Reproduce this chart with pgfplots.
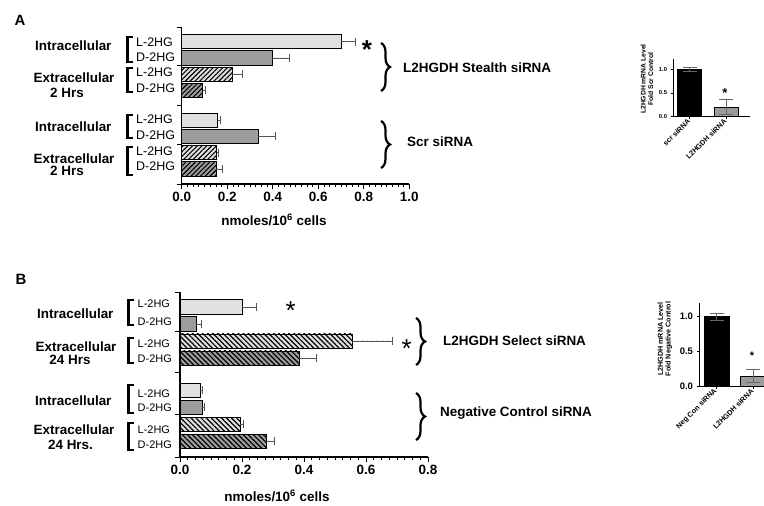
\documentclass[border=0pt]{standalone}
\usepackage{fontspec}
\setmainfont{Liberation Sans}
\usepackage{pgfplots}
\pgfplotsset{compat=1.18}
\usetikzlibrary{patterns.meta,decorations.pathreplacing}

\definecolor{lightbar}{HTML}{E0E0E0}
\definecolor{darkbar}{HTML}{9C9C9C}
\definecolor{errgray}{HTML}{555555}

\newcommand\bigb{\fontsize{13.5}{15}\selectfont\bfseries}
\newcommand\labA{\fontsize{12.5}{14}\selectfont}
\newcommand\labB{\fontsize{11}{13}\selectfont}

\pgfplotsset{
  numfmt/.style={/pgf/number format/fixed, /pgf/number format/fixed zerofill,
    /pgf/number format/precision=1, /pgf/number format/assume math mode=true},
  mainax/.style={
    anchor=south west, scale only axis,
    xmin=0, y dir=reverse,
    axis x line*=bottom, axis y line*=left,
    axis line style={line width=1.2pt},
    tick align=outside,
    major tick length=5bp, minor tick length=3bp,
    every tick/.style={black, line width=1pt},
    minor tick style={line width=0.6pt},
    minor x tick num=7,
    yticklabels={},
    xticklabel style={font=\bigb},
    numfmt,
  },
  hb/.style={xbar, bar shift=0pt, draw=black, line width=0.7pt,
    error bars/x dir=plus, error bars/x explicit,
    error bars/error bar style={line width=0.6pt, draw=errgray},
    error bars/error mark options={rotate=90, mark size=4bp, line width=0.6pt, draw=errgray}},
  hfill/.style={xbar, bar shift=0pt, draw=none, forget plot},
  inset/.style={
    anchor=south west, scale only axis,
    ymin=0, ymax=1.2,
    axis x line*=bottom, axis y line*=left,
    axis line style={line width=0.7pt},
    tick align=outside, major tick length=2.5bp,
    every tick/.style={black, line width=0.6pt},
    xtick={0,1}, ytick={0,0.5,1},
    xticklabel style={rotate=45, anchor=east, inner sep=1pt},
    numfmt,
  },
  vb/.style={ybar, bar shift=0pt, draw=black, line width=0.5pt,
    error bars/y dir=both, error bars/y explicit,
    error bars/error bar style={line width=0.6pt, draw=black!60},
    error bars/error mark options={rotate=90, mark size=7bp, line width=0.6pt, draw=black!60}},
}

\begin{document}
\begin{tikzpicture}[x=1bp,y=-1bp]
\useasboundingbox (0,0) rectangle (764,506);
\coordinate (pA) at (181.7,184);
\coordinate (pB) at (180,457);
\coordinate (iA) at (673,116.7);
\coordinate (iB) at (699,386.7);

% ---------- panel A ----------
\begin{axis}[mainax, at={(pA)}, width=227.6bp, height=157bp,
  xmax=1, ymin=0.1, ymax=9.75,
  xtick={0,0.2,0.4,0.6,0.8,1}, ytick={0.1,2.45,4.9,7.35,9.75}]
\pgfplotsset{every axis plot/.append style={bar width=0.87}}
\addplot[hb, fill=lightbar] coordinates {(0.70,1) +- (0.064,0)};
\addplot[hb, fill=darkbar] coordinates {(0.40,2) +- (0.071,0)};
\addplot[hfill, fill=lightbar] coordinates {(0.222,3)};
\addplot[hb, pattern={Lines[angle=45,distance=3.4pt,line width=1.1pt]}] coordinates {(0.222,3) +- (0.046,0)};
\addplot[hfill, fill=darkbar] coordinates {(0.092,4)};
\addplot[hb, pattern={Lines[angle=45,distance=3.4pt,line width=1.1pt]}] coordinates {(0.092,4) +- (0.013,0)};
\addplot[hb, fill=lightbar] coordinates {(0.158,5.82) +- (0.010,0)};
\addplot[hb, fill=darkbar] coordinates {(0.336,6.82) +- (0.077,0)};
\addplot[hfill, fill=lightbar] coordinates {(0.154,7.82)};
\addplot[hb, pattern={Lines[angle=45,distance=3.4pt,line width=1.1pt]}] coordinates {(0.154,7.82) +- (0.008,0)};
\addplot[hfill, fill=darkbar] coordinates {(0.151,8.82)};
\addplot[hb, pattern={Lines[angle=45,distance=3.4pt,line width=1.1pt]}] coordinates {(0.151,8.82) +- (0.029,0)};
\end{axis}

% ---------- panel B ----------
\begin{axis}[mainax, at={(pB)}, width=248bp, height=165bp,
  xmax=0.8, ymin=0.12, ymax=9.82,
  xtick={0,0.2,0.4,0.6,0.8}, ytick={0.12,2.45,4.88,7.35,9.82}]
\pgfplotsset{every axis plot/.append style={bar width=0.84}}
\addplot[hb, fill=lightbar] coordinates {(0.20,1) +- (0.047,0)};
\addplot[hb, fill=darkbar] coordinates {(0.052,2) +- (0.016,0)};
\addplot[hfill, fill=lightbar] coordinates {(0.557,3)};
\addplot[hb, pattern={Lines[angle=-45,distance=3.6pt,line width=1.2pt]}] coordinates {(0.557,3) +- (0.128,0)};
\addplot[hfill, fill=darkbar] coordinates {(0.385,4)};
\addplot[hb, pattern={Lines[angle=-45,distance=3.6pt,line width=1.2pt]}] coordinates {(0.385,4) +- (0.055,0)};
\addplot[hb, fill=lightbar] coordinates {(0.065,5.9) +- (0.007,0)};
\addplot[hb, fill=darkbar] coordinates {(0.072,6.9) +- (0.005,0)};
\addplot[hfill, fill=lightbar] coordinates {(0.194,7.9)};
\addplot[hb, pattern={Lines[angle=-45,distance=3.6pt,line width=1.2pt]}] coordinates {(0.194,7.9) +- (0.010,0)};
\addplot[hfill, fill=darkbar] coordinates {(0.277,8.9)};
\addplot[hb, pattern={Lines[angle=-45,distance=3.6pt,line width=1.2pt]}] coordinates {(0.277,8.9) +- (0.027,0)};
\end{axis}

% ---------- inset A ----------
\begin{axis}[inset, at={(iA)}, width=77bp, height=57.2bp,
  xmin=-0.46, xmax=1.66,
  xticklabels={scr siRNA, L2HGDH siRNA},
  xticklabel style={font=\fontsize{7.3}{8}\selectfont\bfseries},
  yticklabel style={font=\fontsize{5.8}{7}\selectfont\bfseries}]
\addplot[vb, bar width=0.66, fill=black] coordinates {(0,1.0) +- (0,0.04)};
\addplot[vb, bar width=0.66, fill=darkbar] coordinates {(1,0.205) +- (0,0.155)};
\end{axis}

% ---------- inset B ----------
\begin{axis}[inset, at={(iB)}, width=65bp, height=84bp,
  xmin=-0.48, xmax=1.3,
  xticklabels={Neg Con siRNA, L2HGDH siRNA},
  xticklabel style={font=\fontsize{7.3}{8}\selectfont\bfseries},
  yticklabel style={font=\fontsize{9.5}{11}\selectfont\bfseries}]
\addplot[vb, bar width=0.68, fill=black] coordinates {(0,1.0) +- (0,0.05)};
\addplot[vb, bar width=0.68, fill=darkbar] coordinates {(1,0.155) +- (0,0.093)};
\end{axis}

% ---------- texts, panel A ----------
\node[font=\fontsize{15}{17}\selectfont\bfseries] at (20,20) {A};
\node[font=\bigb, anchor=east] at (115,46) {Intracellular};
\node[font=\bigb, anchor=east] at (118,77.7) {Extracellular};
\node[font=\bigb] at (67,92.7) {2 Hrs};
\node[font=\bigb, anchor=east] at (115,126.7) {Intracellular};
\node[font=\bigb, anchor=east] at (118,158.3) {Extracellular};
\node[font=\bigb] at (67,170.7) {2 Hrs};
\foreach \ya/\yb in {37/62, 68/92, 115/138, 147/175}
  \draw[line width=2.5bp] (133,\ya) -- (127.5,\ya) -- (127.5,\yb) -- (133,\yb);
\foreach \y/\t in {42.7/L-2HG, 57.3/D-2HG, 72.7/L-2HG, 88.3/D-2HG,
                   119.3/L-2HG, 135/D-2HG, 151.7/L-2HG, 166.7/D-2HG}
  \node[font=\labA, anchor=west, inner sep=0pt] at (136,\y) {\t};
\node[font=\fontsize{26}{26}\selectfont\bfseries, anchor=base, inner sep=0pt] at (367,59) {*};
\draw[decorate, decoration={brace, amplitude=9bp}, line width=2.2bp] (381,43) -- (381,91);
\draw[decorate, decoration={brace, amplitude=9bp}, line width=2.2bp] (381,121) -- (381,168);
\node[font=\bigb, anchor=west, inner sep=0pt] at (403,68) {L2HGDH Stealth siRNA};
\node[font=\bigb, anchor=west, inner sep=0pt] at (407,142) {Scr siRNA};
\node[font=\bigb] at (274,220) {nmoles/10\textsuperscript{6} cells};

% ---------- texts, panel B ----------
\node[font=\fontsize{15}{17}\selectfont\bfseries] at (21,279) {B};
\node[font=\bigb, anchor=east] at (117,313.3) {Intracellular};
\node[font=\bigb, anchor=east] at (120,346.7) {Extracellular};
\node[font=\bigb] at (70,360) {24 Hrs};
\node[font=\bigb, anchor=east] at (115,401) {Intracellular};
\node[font=\bigb, anchor=east] at (118,429.3) {Extracellular};
\node[font=\bigb] at (70.5,445) {24 Hrs.};
\foreach \ya/\yb in {300/325, 338/363, 385/413, 423/450}
  \draw[line width=2.5bp] (134,\ya) -- (128.5,\ya) -- (128.5,\yb) -- (134,\yb);
\foreach \y/\t in {303.3/L-2HG, 321.7/D-2HG, 344/L-2HG, 358.3/D-2HG,
                   393.3/L-2HG, 407.3/D-2HG, 430/L-2HG, 445/D-2HG}
  \node[font=\labB, anchor=west, inner sep=0pt] at (137.5,\y) {\t};
\node[font=\fontsize{26}{26}\selectfont, anchor=base, inner sep=0pt] at (290.7,319) {*};
\node[font=\fontsize{26}{26}\selectfont, anchor=base, inner sep=0pt] at (406.7,357) {*};
\draw[decorate, decoration={brace, amplitude=9bp}, line width=2.2bp] (416,318) -- (416,365);
\draw[decorate, decoration={brace, amplitude=9bp}, line width=2.2bp] (416,393) -- (416,440);
\node[font=\bigb, anchor=west, inner sep=0pt] at (443,340.7) {L2HGDH Select siRNA};
\node[font=\bigb, anchor=west, inner sep=0pt] at (440,413.3) {Negative Control siRNA};
\node[font=\bigb] at (277,496) {nmoles/10\textsuperscript{6} cells};

% ---------- inset texts ----------
\node[font=\fontsize{6.8}{7.6}\selectfont\bfseries, rotate=90, align=center] at (647,79) {L2HGDH mRNA Level\\Fold Scr Control};
\node[font=\fontsize{13}{13}\selectfont\bfseries, anchor=base, inner sep=0pt] at (725,98) {*};
\node[font=\fontsize{7.2}{7.8}\selectfont\bfseries, rotate=90, align=center] at (665,339) {L2HGDH mRNA Level\\Fold Negative Control};
\node[font=\fontsize{11}{11}\selectfont\bfseries, anchor=base, inner sep=0pt] at (752,359) {*};
\end{tikzpicture}
\end{document}
